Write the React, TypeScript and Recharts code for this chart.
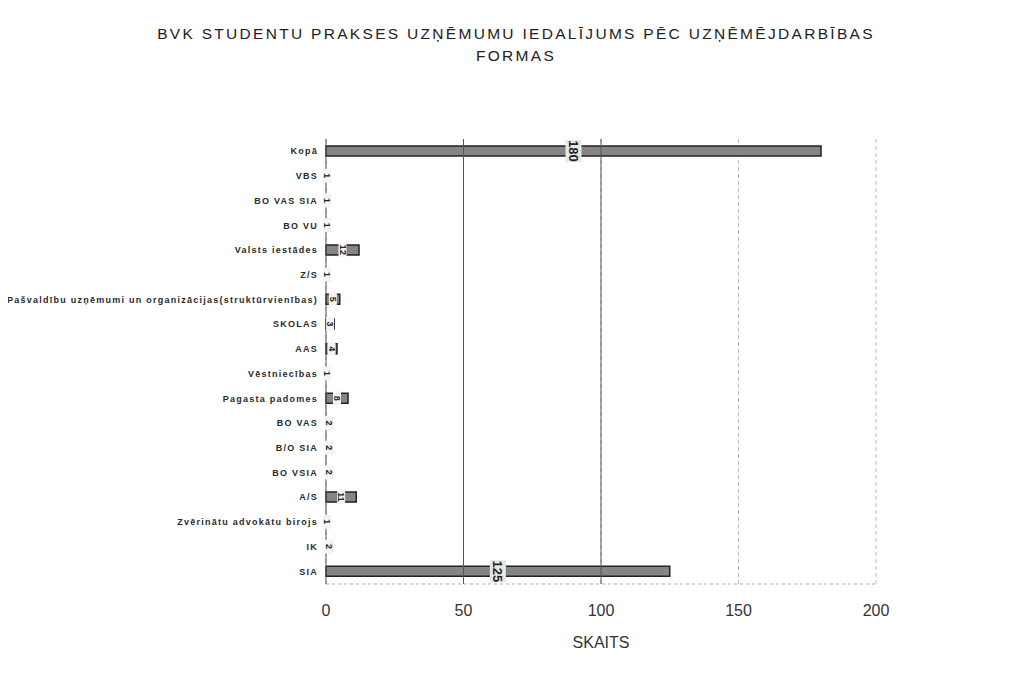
import React from 'react';
import { BarChart, Bar, XAxis, YAxis, CartesianGrid, LabelList, ReferenceLine } from 'recharts';

const categories = [
  'Kopā',
  'VBS',
  'BO VAS SIA',
  'BO VU',
  'Valsts iestādes',
  'Z/S',
  'Pašvaldību uzņēmumi un organizācijas(struktūrvienības)',
  'SKOLAS',
  'AAS',
  'Vēstniecības',
  'Pagasta padomes',
  'BO VAS',
  'B/O SIA',
  'BO VSIA',
  'A/S',
  'Zvērinātu advokātu birojs',
  'IK',
  'SIA',
];
const counts = [180, 1, 1, 1, 12, 1, 5, 3, 4, 1, 8, 2, 2, 2, 11, 1, 2, 125];
const xTicks = [0, 50, 100, 150, 200];
const darkGrid = [50, 100];

const data = categories.map((name, i) => ({ name, value: counts[i] }));

const FONT = "Arial, 'Liberation Sans', sans-serif";

const CategoryTick = (props: any) => {
  const { x, y, payload } = props;
  return (
    <text
      x={x}
      y={y}
      textAnchor="end"
      dominantBaseline="central"
      fontFamily={FONT}
      fontSize={9}
      letterSpacing={1.25}
      fontWeight="bold"
      fill="#2a2a2a"
    >
      {payload.value}
    </text>
  );
};

const ValueLabel = (props: any) => {
  const { x, y, width, height, value } = props;
  const cx = x + width / 2;
  const cy = y + height / 2;
  const big = width > 40;
  return (
    <g>
      <rect
        x={cx - (big ? 8 : 4)}
        y={cy - (big ? 11 : 7)}
        width={big ? 16 : 8}
        height={big ? 22 : 14}
        fill={big ? '#e6e6e6' : '#f4f4f4'}
      />
      <text
        x={cx}
        y={cy}
        transform={`rotate(90 ${cx} ${cy})`}
        textAnchor="middle"
        dominantBaseline="central"
        fontFamily={FONT}
        fontSize={big ? 13 : 9}
        fontWeight="bold"
        fill="#222"
      >
        {value}
      </text>
    </g>
  );
};

export default function App() {
  return (
    <div
      style={{
        position: 'relative',
        width: 993,
        height: 667,
        background: '#fff',
        fontFamily: FONT,
      }}
    >
      <div
        style={{
          position: 'absolute',
          left: 0,
          width: 1016,
          top: 15,
          textAlign: 'center',
          fontSize: 15.5,
          letterSpacing: 2.3,
          lineHeight: '22px',
          color: '#222',
        }}
      >
        BVK STUDENTU PRAKSES UZŅĒMUMU IEDALĪJUMS PĒC UZŅĒMĒJDARBĪBAS
        <br />
        FORMAS
      </div>
      <BarChart
        width={993}
        height={667}
        layout="vertical"
        data={data}
        margin={{ top: 131, right: 125, left: 0, bottom: 61 }}
        barSize={10}
      >
        <CartesianGrid horizontal={false} stroke="#bbb" strokeDasharray="4 3" />
        {darkGrid.map((v) => (
          <ReferenceLine key={v} x={v} stroke="#555" />
        ))}
        <XAxis
          type="number"
          domain={[0, 200]}
          ticks={xTicks}
          tickSize={0}
          tickMargin={21}
          height={30}
          axisLine={{ stroke: '#aaa', strokeDasharray: '3 3' }}
          tick={{ fontSize: 16, fill: '#333', fontFamily: FONT }}
        />
        <YAxis
          type="category"
          dataKey="name"
          width={318}
          tickSize={0}
          tickMargin={8}
          interval={0}
          axisLine={{ stroke: '#555' }}
          tick={<CategoryTick />}
        />
        <Bar dataKey="value" fill="#858585" stroke="#222" strokeWidth={1.5} isAnimationActive={false}>
          <LabelList dataKey="value" content={ValueLabel} />
        </Bar>
      </BarChart>
      <div
        style={{
          position: 'absolute',
          left: 0,
          width: 1186,
          top: 626,
          textAlign: 'center',
          fontSize: 16,
          color: '#333',
        }}
      >
        SKAITS
      </div>
    </div>
  );
}
